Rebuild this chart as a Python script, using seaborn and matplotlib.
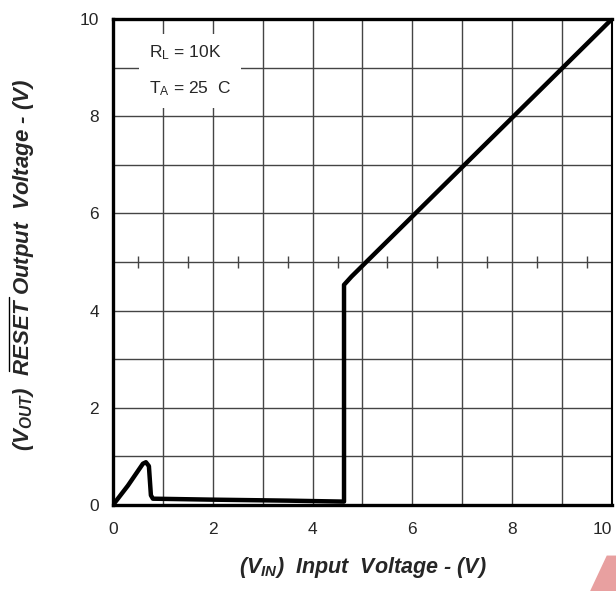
import matplotlib
matplotlib.use("Agg")
import matplotlib.pyplot as plt
import seaborn as sns
import pandas as pd
from matplotlib.patches import Polygon
from matplotlib.lines import Line2D
from matplotlib.transforms import IdentityTransform

vin = [0.0, 0.3, 0.6, 0.66, 0.72, 0.76, 0.8, 2.0, 3.5, 4.63, 4.63, 4.78, 10.0]
vout = [0.0, 0.4, 0.85, 0.88, 0.8, 0.2, 0.13, 0.11, 0.09, 0.07, 4.53, 4.7, 10.0]
xticks = [0, 2, 4, 6, 8, 10]
yticks = [0, 2, 4, 6, 8, 10]
minor_x = [0.5, 1.5, 2.5, 3.5, 4.5, 5.5, 6.5, 7.5, 8.5, 9.5]

sns.set_theme(style="white")
plt.rcParams['font.family'] = ['Liberation Sans', 'DejaVu Sans']
plt.rcParams['mathtext.fontset'] = 'custom'
plt.rcParams['mathtext.rm'] = 'Liberation Sans'
plt.rcParams['mathtext.it'] = 'Liberation Sans:italic'
plt.rcParams['mathtext.bf'] = 'Liberation Sans:bold'
plt.rcParams['mathtext.bfit'] = 'Liberation Sans:bold:italic'

fig = plt.figure(figsize=(6.16, 5.91), dpi=100)
ax = fig.add_axes([0.1834, 0.1455, 0.8101, 0.8224])

df = pd.DataFrame({"vin": vin, "vout": vout})
ax.set_xlim(0, 10)
ax.set_ylim(0, 10)
for v in range(1, 10):
    ax.axvline(v, color="#444444", lw=1.0, zorder=1)
    ax.axhline(v, color="#444444", lw=1.0, zorder=1)
ax.plot(minor_x, [5] * len(minor_x), ls="none", marker="|", markersize=9,
        color="#444444", mew=1.0, zorder=1)

sns.lineplot(data=df, x="vin", y="vout", sort=False, color="black", lw=3.2,
             ax=ax, zorder=3, estimator=None)

ax.set_xticks(xticks)
ax.set_yticks(yticks)
ax.set_xticklabels([str(t) for t in xticks], fontsize=12.5)
ax.set_yticklabels([str(t) for t in yticks], fontsize=12.5)
ax.get_xticklabels()[-1].set_horizontalalignment("right")
ax.tick_params(axis="x", length=0, pad=12)
ax.tick_params(axis="y", length=0, pad=10)
for s in ["left", "bottom", "top"]:
    ax.spines[s].set_linewidth(2.4)
    ax.spines[s].set_color("black")
ax.spines["right"].set_linewidth(1.5)
ax.spines["right"].set_color("black")

ax.set_xlabel(r"(V$_{\mathbfit{IN}}$)  Input  Voltage - (V)",
              fontsize=15.5, fontweight="bold", fontstyle="italic", labelpad=13)
ax.set_ylabel("")

# y label with overline on RESET
props = dict(fontsize=16, fontweight="bold", fontstyle="italic")
prefix = r"(V$_{\mathbfit{OUT}}$)  "
word = "RESET"
rest = " Output  Voltage - (V)"
ylab = fig.text(24 / 616, 1 - 265 / 591, prefix + word + rest, rotation=90,
                ha="center", va="center", **props)

ax.text(0.72, 8.93, "R$_\\mathrm{L}$ = 10K\nT$_\\mathrm{A}$ = 25  C", fontsize=12.5,
        va="center", ha="left", linespacing=2.25, zorder=4,
        bbox=dict(facecolor="white", edgecolor="none", pad=7))

fig.patches.append(Polygon([[0.958, 0.0], [0.985, 0.06], [1.0, 0.06], [1.0, 0.0]],
                           closed=True, transform=fig.transFigure,
                           facecolor="#e8a0a0", edgecolor="none"))

fig.canvas.draw()
renderer = fig.canvas.get_renderer()
bb = ylab.get_window_extent(renderer)
t1 = fig.text(0, 0, prefix + word, **props)
w1 = t1.get_window_extent(renderer).width
t1.remove()
t2 = fig.text(0, 0, word, **props)
w2 = t2.get_window_extent(renderer).width
t2.remove()
xline = bb.x0 - 2.5
fig.add_artist(Line2D([xline, xline], [bb.y0 + (w1 - w2) + 1, bb.y0 + w1 + 1],
                      transform=IdentityTransform(), color="black", lw=1.0))

fig.savefig("out.png", dpi=100)
